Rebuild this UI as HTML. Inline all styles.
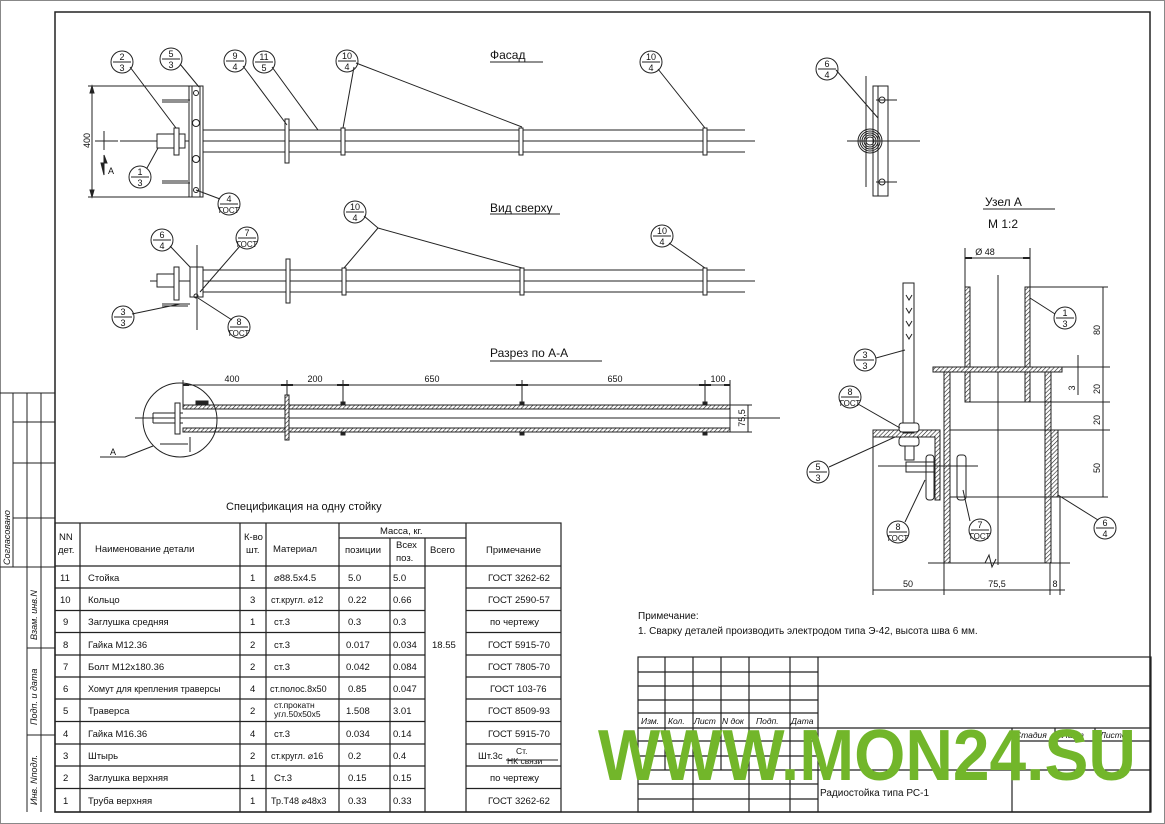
<!DOCTYPE html>
<html><head><meta charset="utf-8"><style>
html,body{margin:0;padding:0;background:#fff}
svg{display:block}
text{font-family:"Liberation Sans","Noto Sans CJK SC",sans-serif;fill:#111}
</style></head><body>
<svg width="1165" height="824" viewBox="0 0 1165 824" xmlns="http://www.w3.org/2000/svg">
<defs>
<pattern id="h" width="3" height="3" patternUnits="userSpaceOnUse" patternTransform="rotate(45)"><rect width="3" height="3" fill="#fff"/><line x1="0" y1="0" x2="0" y2="3" stroke="#222" stroke-width="1.2"/></pattern>
<marker id="ar" markerWidth="8" markerHeight="6" refX="8" refY="3" orient="auto"><path d="M0,1 L8,3 L0,5z" fill="#222"/></marker>
<marker id="al" markerWidth="8" markerHeight="6" refX="0" refY="3" orient="auto"><path d="M8,1 L0,3 L8,5z" fill="#222"/></marker>
</defs>
<g stroke="#222" stroke-width="1" fill="none">
<!-- frame -->
<rect x="0.5" y="0.5" width="1164" height="823" stroke="#888"/>
<rect x="55" y="12" width="1095" height="800" stroke-width="1.5"/>
<!-- left strip -->
<path d="M0 393H55M13 393V567M27 393V812M41 393V812M13 422H55M13 463H55M13 518H55M0 567H55M27 648H55M27 735H55"/>
</g>
<g font-size="9" font-style="italic">
<text transform="translate(10,565) rotate(-90)">Согласовано</text>
<text transform="translate(37,640) rotate(-90)">Взам. инв.N</text>
<text transform="translate(37,725) rotate(-90)">Подп. и дата</text>
<text transform="translate(37,805) rotate(-90)">Инв. Nподл.</text>
</g>

<!-- ===== FACADE ===== -->
<g stroke="#222" stroke-width="1" fill="none">
<path d="M490 62H543"/>
<path d="M203 130H745M203 152H745M120 141H755" />
<rect x="157" y="134" width="28" height="14" fill="#fff"/>
<rect x="174" y="128" width="5" height="27" fill="#fff"/>
<rect x="189" y="86" width="14" height="111" fill="#fff"/>
<path d="M192 86V197M200 86V197"/>
<circle cx="196" cy="93" r="2.5"/><circle cx="196" cy="123" r="3.5"/><circle cx="196" cy="159" r="3.5"/><circle cx="196" cy="190" r="2.5"/>
<path d="M162 100H190M162 102H188M162 183H190M162 181H188"/>
<rect x="285" y="119" width="4" height="44" fill="#fff"/>
<rect x="341" y="128" width="4" height="27" fill="#fff"/>
<rect x="519" y="128" width="4" height="27" fill="#fff"/>
<rect x="703" y="128" width="4" height="27" fill="#fff"/>
<path d="M92 86V197M88 86H189M88 197H189"/>
<path d="M92 86l-2 7h4zM92 197l-2-7h4z" fill="#222"/>
<path d="M95 141H118M104 131V150"/>
<path d="M104 155V175l-3-12h6z" fill="#222"/>
<!-- callouts -->
<circle cx="122" cy="62" r="11"/><path d="M113 62H131M130 67L176 128"/>
<circle cx="171" cy="59" r="11"/><path d="M162 59H180M180 64L199 87"/>
<circle cx="235" cy="61" r="11"/><path d="M226 61H244M243 66L287 125"/>
<circle cx="264" cy="62" r="11"/><path d="M255 62H273M272 67L318 130"/>
<circle cx="347" cy="61" r="11"/><path d="M338 61H356M356 63L522 127M354 67L343 128"/>
<circle cx="651" cy="62" r="11"/><path d="M642 62H660M658 69L705 128"/>
<circle cx="140" cy="177" r="11"/><path d="M131 177H149M147 168L158 148"/>
<circle cx="229" cy="204" r="11"/><path d="M220 204H238M220 199L196 190"/>
</g>
<text x="490" y="59" font-size="12">Фасад</text>
<text transform="translate(90,148) rotate(-90)" font-size="9">400</text>
<text x="108" y="174" font-size="9">A</text>
<g font-size="9" text-anchor="middle">
<text x="122" y="60">2</text><text x="122" y="71">3</text>
<text x="171" y="57">5</text><text x="171" y="68">3</text>
<text x="235" y="59">9</text><text x="235" y="70">4</text>
<text x="264" y="60">11</text><text x="264" y="71">5</text>
<text x="347" y="59">10</text><text x="347" y="70">4</text>
<text x="651" y="60">10</text><text x="651" y="71">4</text>
<text x="140" y="175">1</text><text x="140" y="186">3</text>
<text x="229" y="202">4</text><text x="229" y="213" font-size="8">ГОСТ</text>
</g>

<!-- ===== TOP VIEW ===== -->
<g stroke="#222" stroke-width="1" fill="none">
<path d="M490 214H560"/>
<path d="M203 270H745M203 292H745M150 281H755"/>
<rect x="157" y="274" width="20" height="13" fill="#fff"/>
<rect x="174" y="267" width="5" height="33" fill="#fff"/>
<rect x="190" y="267" width="13" height="30" fill="#fff"/>
<path d="M197 245V330"/>
<path d="M162 304H190M162 306H188"/>
<circle cx="196" cy="296" r="2"/>
<rect x="286" y="259" width="4" height="44" fill="#fff"/>
<rect x="342" y="268" width="4" height="27" fill="#fff"/>
<rect x="520" y="268" width="4" height="27" fill="#fff"/>
<rect x="703" y="268" width="4" height="27" fill="#fff"/>
<circle cx="162" cy="240" r="11"/><path d="M153 240H171M170 246L190 267"/>
<circle cx="247" cy="238" r="11"/><path d="M238 238H256M240 246L200 292"/>
<circle cx="123" cy="317" r="11"/><path d="M114 317H132M132 314L180 304"/>
<circle cx="239" cy="327" r="11"/><path d="M230 327H248M232 320L198 298"/>
<circle cx="355" cy="212" r="11"/><path d="M346 212H364M378 228L522 268M378 228L344 268M364 216L378 228"/>
<circle cx="662" cy="236" r="11"/><path d="M653 236H671M669 243L705 268"/>
</g>
<text x="490" y="212" font-size="12">Вид сверху</text>
<g font-size="9" text-anchor="middle">
<text x="162" y="238">6</text><text x="162" y="249">4</text>
<text x="247" y="236">7</text><text x="247" y="247" font-size="8">ГОСТ</text>
<text x="123" y="315">3</text><text x="123" y="326">3</text>
<text x="239" y="325">8</text><text x="239" y="336" font-size="8">ГОСТ</text>
<text x="355" y="210">10</text><text x="355" y="221">4</text>
<text x="662" y="234">10</text><text x="662" y="245">4</text>
</g>

<!-- ===== SECTION A-A ===== -->
<text x="490" y="357" font-size="12">Разрез по А-А</text>
<g stroke="#222" stroke-width="1" fill="none">
<path d="M490 361H602"/>
<rect x="183" y="405" width="547" height="4" fill="url(#h)"/>
<rect x="183" y="428" width="547" height="4" fill="url(#h)"/>
<path d="M730 405V432M135 418H780M153 413H183M153 423H183M153 413V423"/>
<rect x="175" y="403" width="5" height="31" fill="#fff"/>
<rect x="196" y="401" width="12" height="4" fill="#222"/>
<rect x="285" y="395" width="4" height="45" fill="url(#h)"/>
<rect x="341" y="402" width="4" height="3" fill="#222"/><rect x="341" y="432" width="4" height="3" fill="#222"/>
<rect x="520" y="402" width="4" height="3" fill="#222"/><rect x="520" y="432" width="4" height="3" fill="#222"/>
<rect x="703" y="402" width="4" height="3" fill="#222"/><rect x="703" y="432" width="4" height="3" fill="#222"/>
<path d="M160 444H188M190 437V452"/>
<circle cx="180" cy="420" r="37"/>
<path d="M100 457H125L153 446"/>
<path d="M183 385H730M183 380V405M287 380V395M343 380V402M522 380V402M705 380V402M730 380V405" />
<path d="M183 385h6M287 385h-6M287 385h6M343 385h-6M343 385h6M522 385h-6M522 385h6M705 385h-6M705 385h6M730 385h-6" stroke-width="2"/>
<path d="M730 405H752M730 432H752M748 405V432"/>
</g>
<g font-size="9" text-anchor="middle">
<text x="232" y="382">400</text><text x="315" y="382">200</text><text x="432" y="382">650</text><text x="615" y="382">650</text><text x="718" y="382">100</text>
<text x="113" y="455">A</text>
<text transform="translate(745,418) rotate(-90)">75,5</text>
</g>

<!-- ===== SIDE VIEW ===== -->
<g stroke="#222" stroke-width="1" fill="none">
<rect x="873" y="86" width="15" height="110" fill="#fff"/>
<path d="M878 86V196M866 76V187M847 141H920M876 100H897M876 182H897"/>
<circle cx="882" cy="100" r="3"/><circle cx="882" cy="182" r="3"/>
<circle cx="870" cy="141" r="12"/><circle cx="870" cy="141" r="10"/><circle cx="870" cy="141" r="8"/><circle cx="870" cy="141" r="6"/><circle cx="870" cy="141" r="4"/>
<circle cx="827" cy="69" r="11"/><path d="M818 69H836M836 70L878 118"/>
</g>
<g font-size="9" text-anchor="middle"><text x="827" y="67">6</text><text x="827" y="78">4</text></g>

<!-- ===== UZEL A ===== -->
<text x="985" y="206" font-size="12">Узел  А</text>
<text x="988" y="228" font-size="12">М  1:2</text>
<g stroke="#222" stroke-width="1" fill="none">
<path d="M983 209H1055"/>
<path d="M965 248V287M1030 248V287M965 258H1030"/>
<path d="M965 258h7M1030 258h-7" stroke-width="2"/>
<rect x="965" y="287" width="5" height="115" fill="url(#h)"/>
<rect x="1025" y="287" width="5" height="115" fill="url(#h)"/>
<path d="M970 402H1025M998 275V565M1030 287H1108"/>
<rect x="933" y="367" width="129" height="5" fill="url(#h)"/>
<rect x="944" y="372" width="6" height="191" fill="url(#h)"/>
<rect x="1045" y="372" width="6" height="191" fill="url(#h)"/>
<rect x="1051" y="430" width="7" height="67" fill="url(#h)"/>
<path d="M950 430H1108M950 497H1108M1030 402H1108M1062 367H1108"/>
<path d="M873 430H940V500H935V437H873z" fill="url(#h)"/>
<rect x="903" y="283" width="11" height="150" fill="#fff"/>
<path d="M906 295l3 5 3-5M906 308l3 5 3-5M906 321l3 5 3-5M906 334l3 5 3-5"/>
<rect x="899" y="423" width="20" height="9" rx="3" fill="#fff"/><rect x="899" y="437" width="20" height="9" rx="3" fill="#fff"/>
<rect x="905" y="446" width="9" height="14"/>
<path d="M878 466H978M906 462H935V472H906z"/>
<rect x="926" y="455" width="8" height="45" rx="3"/>
<rect x="957" y="455" width="9" height="45" rx="3"/>
<path d="M928 563H1070M985 563l4-8 3 12 4-8"/>
<path d="M1103 287V497M1100 367H1110M1100 402H1110M1100 430H1110M1078 355V395"/>
<path d="M873 437V595M944 563V595M1050 563V595M1060 497V595M873 590H1065"/>
<circle cx="1065" cy="318" r="11"/><path d="M1056 318H1074M1055 314L1030 298"/>
<circle cx="865" cy="360" r="11"/><path d="M856 360H874M876 358L905 350"/>
<circle cx="850" cy="397" r="11"/><path d="M841 397H859M858 404L900 428"/>
<circle cx="818" cy="472" r="11"/><path d="M809 472H827M829 467L895 437"/>
<circle cx="898" cy="532" r="11"/><path d="M889 532H907M905 522L925 480"/>
<circle cx="980" cy="530" r="11"/><path d="M971 530H989M970 521L963 490"/>
<circle cx="1105" cy="528" r="11"/><path d="M1096 528H1114M1098 520L1058 495"/>
</g>
<g font-size="9" text-anchor="middle">
<text x="985" y="255">Ø 48</text>
<text transform="translate(1100,330) rotate(-90)">80</text>
<text transform="translate(1100,389) rotate(-90)">20</text>
<text transform="translate(1100,420) rotate(-90)">20</text>
<text transform="translate(1100,468) rotate(-90)">50</text>
<text transform="translate(1075,388) rotate(-90)">3</text>
<text x="908" y="587">50</text><text x="997" y="587">75,5</text><text x="1055" y="587">8</text>
<text x="1065" y="316">1</text><text x="1065" y="327">3</text>
<text x="865" y="358">3</text><text x="865" y="369">3</text>
<text x="850" y="395">8</text><text x="850" y="406" font-size="8">ГОСТ</text>
<text x="818" y="470">5</text><text x="818" y="481">3</text>
<text x="898" y="530">8</text><text x="898" y="541" font-size="8">ГОСТ</text>
<text x="980" y="528">7</text><text x="980" y="539" font-size="8">ГОСТ</text>
<text x="1105" y="526">6</text><text x="1105" y="537">4</text>
</g>

<!-- ===== SPEC TABLE ===== -->
<text x="226" y="510" font-size="11">Спецификация на одну стойку</text>
<g stroke="#222" stroke-width="1.2" fill="none">
<rect x="55" y="523" width="506" height="289"/>
<path d="M80 523V812M240 523V812M266 523V812M339 523V812M466 523V812M390 538V812M425 538V812M339 538H466"/>
<path d="M55 566H561"/>
<path d="M55 588H425M466 588H561M55 610.5H425M466 610.5H561M55 632.5H425M466 632.5H561M55 655H425M466 655H561M55 677H425M466 677H561M55 699H425M466 699H561M55 721.5H425M466 721.5H561M55 744H425M466 744H561M55 766H425M466 766H561M55 788.5H425M466 788.5H561"/>
</g>
<g font-size="9.5">
<text x="59" y="540">NN</text><text x="58" y="553">дет.</text>
<text x="95" y="552">Наименование детали</text>
<text x="244" y="540">К-во</text><text x="246" y="553">шт.</text>
<text x="273" y="552">Материал</text>
<text x="380" y="534">Масса, кг.</text>
<text x="345" y="553">позиции</text>
<text x="396" y="548">Всех</text><text x="396" y="561">поз.</text>
<text x="430" y="553">Всего</text>
<text x="486" y="553">Примечание</text>
<text x="432" y="648">18.55</text>
</g>
<g font-size="9.5">
<g transform="translate(0,581)"><text x="60">11</text><text x="88">Стойка</text><text x="250">1</text><text x="274">⌀88.5x4.5</text><text x="348">5.0</text><text x="393">5.0</text><text x="488">ГОСТ 3262-62</text></g>
<g transform="translate(0,603)"><text x="60">10</text><text x="88">Кольцо</text><text x="250">3</text><text x="271" font-size="9">ст.кругл. ⌀12</text><text x="348">0.22</text><text x="393">0.66</text><text x="488">ГОСТ 2590-57</text></g>
<g transform="translate(0,625)"><text x="63">9</text><text x="88">Заглушка средняя</text><text x="250">1</text><text x="274">ст.3</text><text x="348">0.3</text><text x="393">0.3</text><text x="490">по чертежу</text></g>
<g transform="translate(0,648)"><text x="63">8</text><text x="88">Гайка М12.36</text><text x="250">2</text><text x="274">ст.3</text><text x="346">0.017</text><text x="393">0.034</text><text x="488">ГОСТ 5915-70</text></g>
<g transform="translate(0,670)"><text x="63">7</text><text x="88">Болт М12х180.36</text><text x="250">2</text><text x="274">ст.3</text><text x="346">0.042</text><text x="393">0.084</text><text x="488">ГОСТ 7805-70</text></g>
<g transform="translate(0,692)"><text x="63">6</text><text x="88" font-size="9">Хомут для крепления траверсы</text><text x="250">4</text><text x="270" font-size="9">ст.полос.8х50</text><text x="348">0.85</text><text x="393">0.047</text><text x="490">ГОСТ 103-76</text></g>
<g transform="translate(0,714)"><text x="63">5</text><text x="88">Траверса</text><text x="250">2</text><text x="274" y="-6" font-size="8.5">ст.прокатн</text><text x="274" y="3" font-size="8.5">угл.50х50х5</text><text x="346">1.508</text><text x="393">3.01</text><text x="488">ГОСТ 8509-93</text></g>
<g transform="translate(0,737)"><text x="63">4</text><text x="88">Гайка М16.36</text><text x="250">4</text><text x="274">ст.3</text><text x="346">0.034</text><text x="393">0.14</text><text x="488">ГОСТ 5915-70</text></g>
<g transform="translate(0,759)"><text x="63">3</text><text x="88">Штырь</text><text x="250">2</text><text x="271" font-size="9">ст.кругл. ⌀16</text><text x="348">0.2</text><text x="393">0.4</text><text x="478">Шт.3с</text><text x="516" y="-5" font-size="8.5">Ст.</text><text x="507" y="5" font-size="8.5">НК связи</text></g>
<g transform="translate(0,781)"><text x="63">2</text><text x="88">Заглушка верхняя</text><text x="250">1</text><text x="274">Ст.3</text><text x="348">0.15</text><text x="393">0.15</text><text x="490">по чертежу</text></g>
<g transform="translate(0,804)"><text x="63">1</text><text x="88">Труба верхняя</text><text x="250">1</text><text x="271" font-size="9">Тр.Т48  ⌀48х3</text><text x="348">0.33</text><text x="393">0.33</text><text x="488">ГОСТ 3262-62</text></g>
</g>
<line x1="506" y1="760" x2="558" y2="760" stroke="#222"/>

<!-- ===== NOTE ===== -->
<text x="638" y="619" font-size="10">Примечание:</text>
<text x="638" y="634" font-size="10">1. Сварку деталей производить электродом типа Э-42, высота шва 6 мм.</text>

<!-- ===== TITLE BLOCK ===== -->
<g stroke="#222" stroke-width="1.2" fill="none">
<rect x="638" y="657" width="513" height="155"/>
<path d="M638 672H818M638 686H1151M638 700H818M638 713H818M638 728H1151M638 741H818M1012 741H1151M638 756H818M638 770H1151M638 784H818M638 799H818"/>
<path d="M665 657V770M721 657V770M693 657V812M749 657V812M790 657V812M818 657V812M1012 728V812M1055 728V741M1095 728V741"/>
</g>
<g font-size="8.5" font-style="italic">
<text x="641" y="724">Изм.</text><text x="668" y="724">Кол.</text><text x="694" y="724">Лист</text><text x="722" y="724">N док</text><text x="756" y="724">Подп.</text><text x="791" y="724">Дата</text>
<text x="1015" y="738">Стадия</text><text x="1062" y="738">Лист</text><text x="1100" y="738">Листов</text>
</g>
<text x="820" y="796" font-size="10">Радиостойка типа РС-1</text>

<!-- watermark -->
<text x="598" y="780" font-size="72" font-weight="bold" textLength="538" lengthAdjust="spacingAndGlyphs" style="fill:#72b62a">WWW.MON24.SU</text>
</svg>
</body></html>
